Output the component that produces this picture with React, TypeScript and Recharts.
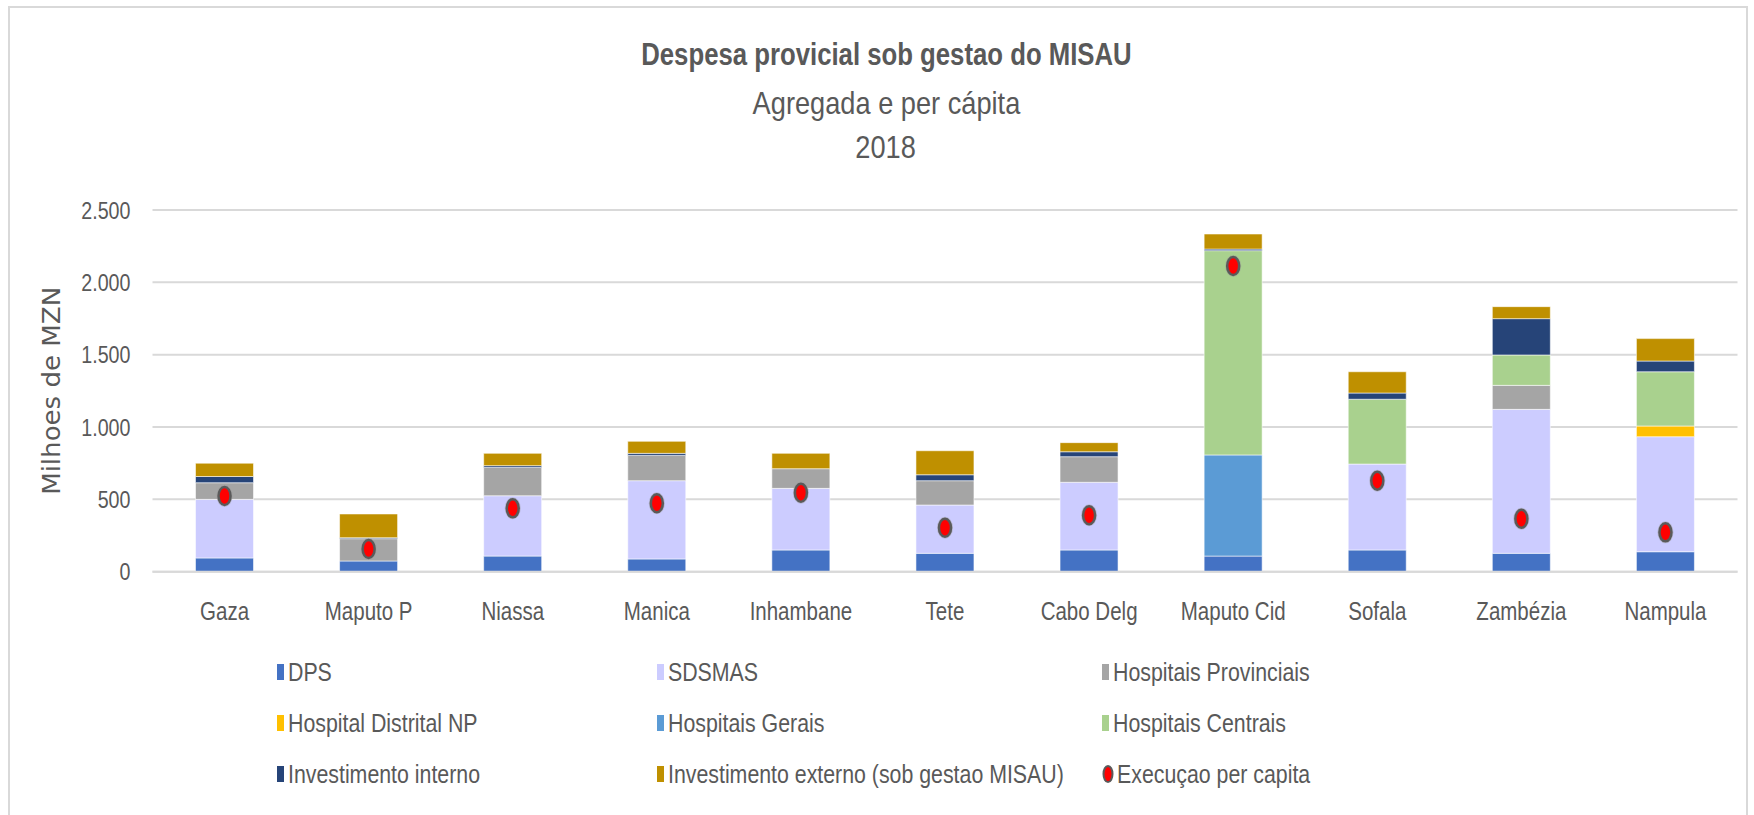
import React from "react";
import {
  ComposedChart,
  Bar,
  Line,
  XAxis,
  YAxis,
  CartesianGrid,
  Legend,
} from "recharts";

const categories = ["Gaza", "Maputo P", "Niassa", "Manica", "Inhambane", "Tete", "Cabo Delg", "Maputo Cid", "Sofala", "Zambézia", "Nampula"];

const dps = [95, 74, 108, 88, 150, 127, 150, 108, 150, 127, 138];
const sdsmas = [405, 0, 417, 541, 426, 334, 468, 0, 594, 995, 795];
const hospProvinciais = [115, 154, 196, 175, 136, 168, 177, 0, 0, 166, 0];
const hospDistritalNP = [0, 0, 0, 0, 0, 0, 0, 0, 0, 0, 74];
const hospGerais = [0, 0, 0, 0, 0, 0, 0, 699, 0, 0, 0];
const hospCentrais = [0, 0, 0, 0, 0, 0, 0, 1412, 448, 210, 375];
const investInterno = [43, 7, 12, 14, 0, 41, 34, 11, 43, 251, 74];
const investExterno = [92, 164, 85, 83, 106, 166, 63, 104, 147, 83, 155];
const perCapita = [523, 157, 438, 473, 546, 304, 390, 2113, 629, 366, 272];

const yTicks = [0, 500, 1000, 1500, 2000, 2500];

const series = [
  { key: "dps", name: "DPS", color: "#4472C4", values: dps },
  { key: "sdsmas", name: "SDSMAS", color: "#CCCCFF", values: sdsmas },
  { key: "hp", name: "Hospitais Provinciais", color: "#A5A5A5", values: hospProvinciais },
  { key: "hdnp", name: "Hospital Distrital NP", color: "#FFC000", values: hospDistritalNP },
  { key: "hg", name: "Hospitais Gerais", color: "#5B9BD5", values: hospGerais },
  { key: "hc", name: "Hospitais Centrais", color: "#A9D18E", values: hospCentrais },
  { key: "ii", name: "Investimento interno", color: "#264478", values: investInterno },
  { key: "ie", name: "Investimento externo (sob gestao MISAU)", color: "#BF9000", values: investExterno },
];

const data = categories.map((name, i) => {
  const row: Record<string, string | number> = { name, perCapita: perCapita[i] };
  series.forEach((s) => (row[s.key] = s.values[i]));
  return row;
});

// no narrow font installed, so squeeze Liberation Sans horizontally
const FONT = "'Liberation Sans', Arial, sans-serif";
const SQ = 0.82;
const GREY = "#595959";

const fmt = (v: number) => v.toLocaleString("de-DE");

const XTick = (props: any) => {
  const { x, y, payload } = props;
  return (
    <text
      transform={`translate(${x}, ${y}) scale(${SQ}, 1)`}
      textAnchor="middle"
      dy="0.71em"
      fill={GREY}
      fontSize={25}
      fontFamily={FONT}
    >
      {payload.value}
    </text>
  );
};

const YTick = (props: any) => {
  const { x, y, payload } = props;
  return (
    <text
      transform={`translate(${x}, ${y}) scale(${SQ}, 1)`}
      textAnchor="end"
      dy="0.355em"
      fill={GREY}
      fontSize={24}
      fontFamily={FONT}
    >
      {fmt(payload.value)}
    </text>
  );
};

const RedDot = (props: any) => {
  const { cx, cy } = props;
  if (cx == null || cy == null) return null;
  return (
    <g>
      <ellipse cx={cx} cy={cy} rx={8} ry={11} fill="#9a9a9a" opacity={0.45} />
      <ellipse cx={cx} cy={cy} rx={6} ry={9} fill="#ff0000" stroke="#5a5a5a" strokeWidth={2.5} />
    </g>
  );
};

const legendItems = [
  ...series.map((s) => ({ name: s.name, color: s.color, dot: false })),
  { name: "Execuçao per capita", color: "#ff0000", dot: true },
];

const colX = [277, 657, 1102];
const rowY = [22, 73, 124];

const renderLegend = () => (
  <div style={{ position: "relative", width: 1754, height: 150 }}>
    {legendItems.map((it, i) => (
      <div
        key={it.name}
        style={{
          position: "absolute",
          left: colX[i % 3],
          top: rowY[Math.floor(i / 3)] - 15,
          height: 30,
          display: "flex",
          alignItems: "center",
          whiteSpace: "nowrap",
        }}
      >
        {it.dot ? (
          <svg width={12} height={20} style={{ marginRight: 3 }}>
            <ellipse cx={6} cy={10} rx={4.5} ry={8} fill="#ff0000" stroke="#5a5a5a" strokeWidth={2} />
          </svg>
        ) : (
          <span style={{ display: "inline-block", width: 7, height: 16, background: it.color, marginRight: 4 }} />
        )}
        <span
          style={{
            display: "inline-block",
            fontFamily: FONT,
            fontSize: 26,
            color: GREY,
            transform: `scaleX(${SQ})`,
            transformOrigin: "left center",
          }}
        >
          {it.name}
        </span>
      </div>
    ))}
  </div>
);

const titleLine = (text: string, top: number, size: number, sq: number, bold: boolean) => (
  <div
    style={{
      position: "absolute",
      left: 0,
      top,
      width: 1772,
      textAlign: "center",
      lineHeight: "36px",
    }}
  >
    <span
      style={{
        display: "inline-block",
        fontFamily: FONT,
        fontSize: size,
        fontWeight: bold ? 700 : 400,
        color: GREY,
        transform: `scaleX(${sq})`,
      }}
    >
      {text}
    </span>
  </div>
);

const App: React.FC = () => {
  return (
    <div style={{ position: "absolute", left: 0, top: 0, width: 1754, height: 815, background: "#fff" }}>
      <div
        style={{
          position: "absolute",
          left: 8,
          top: 6,
          width: 1740,
          height: 812,
          border: "2px solid #d9d9d9",
          boxSizing: "border-box",
        }}
      />
      {titleLine("Despesa provicial sob gestao do MISAU", 37, 31, 0.83, true)}
      {titleLine("Agregada e per cápita", 85, 32, 0.85, false)}
      {titleLine("2018", 129, 32, 0.85, false)}
      <div style={{ position: "absolute", left: 0, top: 0 }}>
        <ComposedChart
          width={1754}
          height={815}
          data={data}
          margin={{ top: 210, right: 16.5, bottom: 203.3, left: 62.5 }}
        >
          <CartesianGrid vertical={false} stroke="#d9d9d9" strokeWidth={2} />
          <XAxis
            dataKey="name"
            height={40}
            axisLine={{ stroke: "#d9d9d9", strokeWidth: 2 }}
            tickLine={false}
            tickSize={6}
            tickMargin={25}
            tick={<XTick />}
            interval={0}
          />
          <YAxis
            width={90}
            domain={[0, 2500]}
            ticks={yTicks}
            axisLine={false}
            tickLine={false}
            tickSize={6}
            tickMargin={16}
            tick={<YTick />}
            label={{
              content: ({ viewBox }: any) => {
                const cy = viewBox.y + viewBox.height / 2;
                return (
                  <text
                    x={51}
                    y={cy}
                    transform={`rotate(-90, 51, ${cy})`}
                    textAnchor="middle"
                    dy="0.355em"
                    fill={GREY}
                    fontSize={24}
                    fontFamily="'DejaVu Sans', sans-serif"
                    textLength={208}
                    lengthAdjust="spacingAndGlyphs"
                  >
                    Milhoes de MZN
                  </text>
                );
              },
            }}
          />
          {series.map((s) => (
            <Bar
              key={s.key}
              dataKey={s.key}
              name={s.name}
              stackId="a"
              fill={s.color}
              stroke="rgba(255,255,255,0.55)"
              strokeWidth={1}
              barSize={58}
              isAnimationActive={false}
            />
          ))}
          <Line
            dataKey="perCapita"
            name="Execuçao per capita"
            stroke="none"
            dot={<RedDot />}
            activeDot={false}
            isAnimationActive={false}
          />
          <Legend
            layout="vertical"
            verticalAlign="middle"
            align="center"
            content={renderLegend}
            wrapperStyle={{ top: 650, left: 0, width: 1754, height: 150 }}
          />
        </ComposedChart>
      </div>
    </div>
  );
};

export default App;
